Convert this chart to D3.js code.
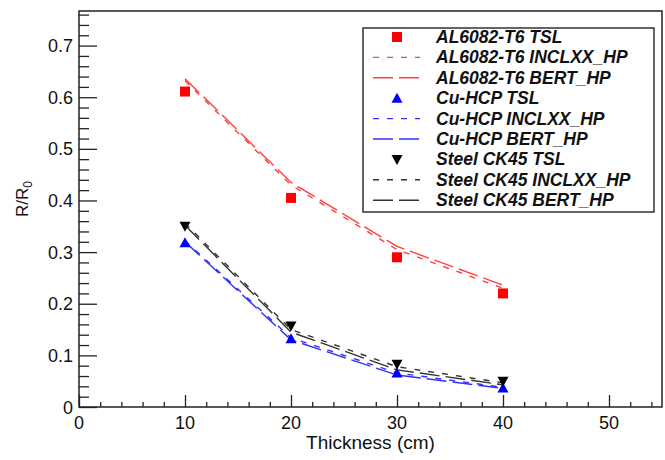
<!DOCTYPE html>
<html>
<head>
<meta charset="utf-8">
<script src="https://cdn.jsdelivr.net/npm/d3@7"></script>
<style>
  body { margin: 0; background: #fff; }
  text { font-family: "Liberation Sans", Arial, sans-serif; }
</style>
</head>
<body>
<div id="vis"></div>
<script>
// thickness values (cm)
const thickness = [10, 20, 30, 40];

// R/R0
const alTsl    = [0.611, 0.405, 0.290, 0.220];
const alIncl   = [0.632, 0.430, 0.305, 0.230];
const alBert   = [0.636, 0.435, 0.311, 0.236];
const cuTsl    = [0.318, 0.132, 0.066, 0.037];
const cuIncl   = [0.322, 0.134, 0.066, 0.038];
const cuBert   = [0.320, 0.130, 0.062, 0.036];
const stTsl    = [0.350, 0.157, 0.083, 0.050];
const stIncl   = [0.356, 0.150, 0.078, 0.047];
const stBert   = [0.352, 0.145, 0.072, 0.043];

const xTicks = [0, 10, 20, 30, 40, 50];
const yTicks = [0, 0.1, 0.2, 0.3, 0.4, 0.5, 0.6, 0.7];

const width = 665, height = 460;
const margin = { left: 79, right: 3, top: 11, bottom: 53 };

const svg = d3.select("#vis").append("svg")
  .attr("width", width)
  .attr("height", height);

const x = d3.scaleLinear().domain([0, 55]).range([margin.left, width - margin.right]);
const y = d3.scaleLinear().domain([0, 0.767]).range([height - margin.bottom, margin.top]);

const red = "#ff0000", blue = "#0000ff", black = "#000000";
const dashIncl = "6,8", dashBert = "20,6";

const series = [
  { name: "AL6082-T6 TSL", kind: "marker", shape: "square", color: red, values: alTsl },
  { name: "AL6082-T6 INCLXX_HP", kind: "line", dash: dashIncl, color: "#ff4040", values: alIncl },
  { name: "AL6082-T6 BERT_HP", kind: "line", dash: dashBert, color: "#ff4040", values: alBert },
  { name: "Cu-HCP TSL", kind: "marker", shape: "up", color: blue, values: cuTsl },
  { name: "Cu-HCP INCLXX_HP", kind: "line", dash: dashIncl, color: "#3030ff", values: cuIncl },
  { name: "Cu-HCP BERT_HP", kind: "line", dash: dashBert, color: "#3030ff", values: cuBert },
  { name: "Steel CK45 TSL", kind: "marker", shape: "down", color: black, values: stTsl },
  { name: "Steel CK45 INCLXX_HP", kind: "line", dash: dashIncl, color: "#333", values: stIncl },
  { name: "Steel CK45 BERT_HP", kind: "line", dash: dashBert, color: "#333", values: stBert }
];

function markerPath(shape) {
  if (shape === "square") return "M-5,-5H5V5H-5Z";
  if (shape === "up") return "M0,-5.5L5.5,4.5H-5.5Z";
  return "M0,5.5L5.5,-4.5H-5.5Z";
}

// axes (ticks inward, ROOT style)
const axisY = height - margin.bottom;
const gx = svg.append("g").attr("transform", `translate(0,${axisY})`);
gx.call(d3.axisBottom(x).tickValues(d3.range(0, 56, 2)).tickSize(-5).tickFormat(""));
gx.call(g => g.selectAll(".tick").filter(d => d % 10 === 0).select("line").attr("y2", -12));
gx.selectAll(".tick line").attr("stroke", "#222").attr("stroke-width", 1.3);
gx.select(".domain").remove();
gx.selectAll(".lbl").data(xTicks).join("text")
  .attr("x", d => x(d)).attr("y", 22)
  .attr("text-anchor", "middle")
  .attr("font-size", 18).attr("fill", "#111")
  .text(d => d);

const gy = svg.append("g").attr("transform", `translate(${margin.left},0)`);
gy.call(d3.axisLeft(y).tickValues(d3.range(0, 0.77, 0.02)).tickSize(-10).tickFormat(""));
gy.call(g => g.selectAll(".tick").filter((d, i) => i % 5 === 0).select("line").attr("x2", 18));
gy.selectAll(".tick line").attr("stroke", "#222").attr("stroke-width", 1.3);
gy.select(".domain").remove();
gy.selectAll(".lbl").data(yTicks).join("text")
  .attr("x", -6).attr("y", d => y(d) + 6.5)
  .attr("text-anchor", "end")
  .attr("font-size", 18).attr("fill", "#111")
  .text(d => d === 0 ? "0" : d.toFixed(1));

// frame
svg.append("rect")
  .attr("x", x(0)).attr("y", y(0.767))
  .attr("width", x(55) - x(0)).attr("height", y(0) - y(0.767))
  .attr("fill", "none").attr("stroke", "#222").attr("stroke-width", 1.5);

// axis titles
svg.append("text")
  .attr("x", (x(0) + x(55)) / 2).attr("y", 449)
  .attr("text-anchor", "middle").attr("font-size", 19).attr("fill", "#111")
  .text("Thickness (cm)");

const yt = svg.append("text")
  .attr("transform", "translate(28,199) rotate(-90)")
  .attr("text-anchor", "middle").attr("font-size", 17).attr("fill", "#111");
yt.append("tspan").text("R/R");
yt.append("tspan").attr("font-size", 12).attr("dy", 4).text("0");

// data
const line = d3.line().x((d, i) => x(thickness[i])).y(d => y(d));
const plot = svg.append("g");

series.filter(s => s.kind === "line").forEach(s => {
  plot.append("path")
    .attr("d", line(s.values))
    .attr("fill", "none")
    .attr("stroke", s.color)
    .attr("stroke-width", 1.4)
    .attr("stroke-dasharray", s.dash);
});

series.filter(s => s.kind === "marker").forEach(s => {
  plot.selectAll(null).data(s.values).join("path")
    .attr("transform", (d, i) => `translate(${x(thickness[i])},${y(d)})`)
    .attr("d", markerPath(s.shape))
    .attr("fill", s.color);
});

// legend
const legend = svg.append("g");
legend.append("rect")
  .attr("x", 363).attr("y", 28).attr("width", 291).attr("height", 184)
  .attr("fill", "#fff").attr("stroke", "#333").attr("stroke-width", 1.5);

const rows = legend.selectAll(".row").data(series).join("g")
  .attr("transform", (d, i) => `translate(0,${37 + i * 20.4})`);

rows.filter(d => d.kind === "marker").append("path")
  .attr("transform", "translate(397,0)")
  .attr("d", d => markerPath(d.shape))
  .attr("fill", d => d.color);

rows.filter(d => d.kind === "line").append("line")
  .attr("x1", 373).attr("x2", 420)
  .attr("stroke", d => d.color).attr("stroke-width", 1.4)
  .attr("stroke-dasharray", d => d.dash);

rows.append("text")
  .attr("x", 436).attr("y", 6)
  .attr("font-size", 17.5).attr("font-weight", "bold").attr("font-style", "italic")
  .attr("fill", "#111")
  .text(d => d.name);
</script>
</body>
</html>
